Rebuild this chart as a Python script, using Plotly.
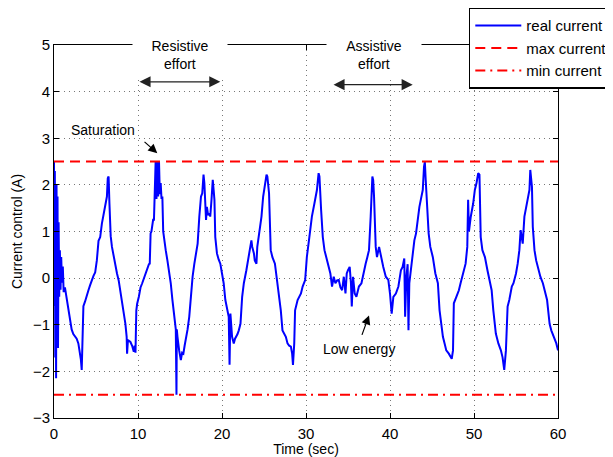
# %%
import plotly.graph_objects as go

# current signal, time in seconds, current in A
time_s = [
    0, 0.05, 0.1, 0.15, 0.2, 0.25, 0.3, 0.36, 0.42, 0.48, 0.55, 0.62, 0.7, 0.78, 0.86, 0.95,
    1.05, 1.15, 1.3, 1.5, 1.7, 1.9, 2.1, 2.3, 2.5, 2.7, 2.9, 3.0, 3.1, 3.2, 3.3, 3.4, 3.5,
    3.7, 3.9, 4.1, 4.3, 4.5, 4.7, 4.9, 5.1, 5.3, 5.5, 5.7, 5.9, 6.1, 6.3, 6.4, 6.5, 6.6,
    6.75, 6.9, 7.1, 7.3, 7.5, 7.7, 7.9, 8.1, 8.3, 8.5, 8.65, 8.7, 8.8, 8.9, 9.1, 9.3, 9.5,
    9.6, 9.7, 9.8, 9.9, 10.1,
    10.3, 10.5, 10.7, 10.9, 11.1, 11.3, 11.4, 11.5, 11.6, 11.7, 11.8, 11.9, 12.0, 12.1,
    12.2, 12.3, 12.4, 12.5, 12.6, 12.7, 12.8, 12.9, 13.0, 13.1, 13.3, 13.5, 13.7, 13.9,
    14.1, 14.3, 14.5, 14.58, 14.62, 14.7, 14.9, 15.1, 15.25, 15.4, 15.55, 15.7, 15.9, 16.1,
    16.3, 16.5, 16.7, 16.9, 17.1, 17.3, 17.5, 17.65, 17.8, 17.9, 18.0, 18.1, 18.2, 18.35,
    18.5, 18.6, 18.75, 18.9, 19.0, 19.1, 19.2, 19.4, 19.6, 19.8, 20.0, 20.2,
    20.4, 20.6, 20.8, 20.9, 21.0, 21.2, 21.4, 21.55, 21.7, 21.85, 22.0, 22.2, 22.4, 22.6,
    22.9, 23.2, 23.5, 23.6, 23.8, 23.9, 24.1, 24.2, 24.5, 24.7, 24.9, 25.1, 25.3, 25.4,
    25.6, 25.8, 26.0, 26.3, 26.6, 26.8, 27.0, 27.2, 27.4, 27.6, 27.8, 28.0, 28.2, 28.35,
    28.45, 28.6, 28.7, 29.0, 29.4, 29.6, 29.9,
    30.1, 30.4, 30.7, 31.0, 31.3, 31.5, 31.6, 31.8, 32.0, 32.2, 32.5, 32.7, 32.9, 33.1,
    33.3, 33.5, 33.7, 33.9, 34.1, 34.3, 34.5, 34.7, 34.85, 35.0, 35.2, 35.35, 35.45, 35.6,
    35.8, 36.0, 36.3, 36.6, 36.9, 37.1, 37.3, 37.5, 37.7, 37.9, 38.0, 38.1, 38.3, 38.45,
    38.7, 39.0, 39.2, 39.5, 39.8,
    40.0, 40.2, 40.4, 40.7, 41.0, 41.3, 41.5, 41.7, 41.8, 41.95, 42.1, 42.2, 42.3, 42.5,
    42.7, 42.9, 43.1, 43.3, 43.5, 43.7, 43.9, 44.05, 44.15, 44.25, 44.4, 44.6, 44.8, 45.1,
    45.4, 45.7, 45.9, 46.1, 46.3, 46.5, 46.7, 47.0, 47.2, 47.35, 47.5, 47.6, 47.9, 48.2,
    48.4, 48.7, 49.0, 49.2, 49.3, 49.4, 49.6, 49.9,
    50.1, 50.3, 50.5, 50.65, 50.8, 51.0, 51.3, 51.6, 51.8, 52.1, 52.3, 52.5, 52.6, 52.9,
    53.2, 53.4, 53.6, 53.8, 54.0, 54.2, 54.5, 54.7, 55.0, 55.2, 55.4, 55.55, 55.7, 55.8,
    56.0, 56.3, 56.6, 56.7, 56.9, 57.0, 57.2, 57.4, 57.6, 57.9, 58.2, 58.4, 58.7, 59.0,
    59.2, 59.5, 59.8, 60.0,
]
current_a = [
    2.5, -0.6, 2.3, -1.7, 1.0, -2.15, 2.0, -0.3, 1.75, -1.5, 1.2, -0.4, 0.6, -0.25, 0.45, -0.1,
    0.25, -0.3, -0.2, -0.45, -0.65, -0.9, -1.1, -1.2, -1.26, -1.3, -1.4, -1.5, -1.6, -1.75, -1.97, -1.2, -0.6,
    -0.5, -0.35, -0.26, -0.15, -0.04, 0.05, 0.12, 0.38, 0.8, 0.88, 1.17, 1.39, 1.53, 1.75, 2.14, 2.18, 1.6,
    0.9, 0.67, 0.45, 0.3, 0.1, -0.05, -0.26, -0.5, -0.75, -0.98, -1.26, -1.62, -1.33, -1.35, -1.37, -1.45, -1.58,
    -1.45, -1.6, -0.69, -0.55, -0.4,
    -0.2, -0.11, 0.0, 0.1, 0.24, 0.3, 0.31, 0.96, 1.0, 1.17, 1.25, 1.25, 1.9, 2.5,
    1.7, 2.5, 1.75, 2.5, 1.8, 2.04, 1.7, 1.75, 1.0, 0.81, 0.6, 0.38, 0.17, -0.11,
    -0.47, -0.76, -1.1, -2.5, -1.1, -1.26, -1.55, -1.76, -1.6, -1.62, -1.45, -1.33, -1.1, -0.83,
    -0.33, 0.03, 0.3, 0.53, 0.74, 1.32, 1.75, 1.82, 2.22, 2.04, 1.6, 1.25, 1.53, 1.35,
    1.39, 1.32, 1.68, 2.11, 1.9, 1.68, 0.88, 0.53, 0.4, 0.31, 0.1, -0.11,
    -0.47, -0.69, -0.83, -1.86, -0.76, -1.26, -1.4, -1.3, -1.26, -1.2, -1.12, -0.98, -0.4, -0.11,
    0.17, 0.45, 0.81, 0.67, 0.53, 0.38, 0.31, 0.67, 1.1, 1.32, 1.75, 1.96, 2.22, 2.18,
    1.82, 0.6, 0.45, 0.31, -0.11, -0.33, -0.69, -1.12, -1.2, -1.26, -1.4, -1.45, -1.47, -1.62,
    -1.86, -1.4, -0.69, -0.47, -0.33, -0.18, -0.04,
    0.45, 0.88, 1.32, 1.6, 1.89, 2.25, 2.18, 1.46, 0.88, 0.6, 0.38, 0.24, 0.1, -0.18,
    0.03, -0.11, -0.05, -0.04, -0.2, -0.26, 0.03, -0.33, 0.1, 0.17, 0.24, -0.1, -0.61, 0.03,
    -0.33, -0.4, -0.18, -0.11, 0.17, 0.31, 0.45, 0.6, 1.32, 2.18, 2.1, 1.75, 0.67, 0.45,
    0.67, 0.38, 0.24, 0.03, -0.04,
    -0.33, -0.76, -0.4, -0.33, -0.18, 0.17, 0.24, 0.42, -0.83, 0.03, 0.3, -1.12, -0.11, 0.17,
    0.53, 0.81, 0.96, 1.32, 1.53, 1.71, 1.89, 2.39, 2.49, 2.11, 1.68, 0.96, 0.67, 0.45,
    0.1, -0.11, -0.69, -0.98, -1.26, -1.4, -1.55, -1.62, -1.7, -1.73, -1.55, -0.54, -0.4, -0.26,
    -0.11, 0.1, 0.31, 0.67, 1.68, 1.0, 1.3, 1.6,
    1.89, 2.04, 2.25, 2.22, 0.88, 0.6, 0.45, 0.17, -0.04, -0.26, -0.69, -0.98, -1.19, -1.4,
    -1.55, -1.7, -1.97, -1.55, -0.61, -0.47, -0.18, -0.11, 0.1, 0.31, 0.6, 1.03, 0.8, 0.74,
    1.32, 1.6, 1.89, 2.32, 1.96, 1.1, 0.6, 0.38, 0.24, 0.03, -0.11, -0.26, -0.47, -0.98,
    -1.12, -1.26, -1.4, -1.55,
]
max_current = 2.5
min_current = -2.5
x_range = [0, 60]
y_range = [-3, 5]

# %%
fig = go.Figure()
fig.add_trace(go.Scatter(x=time_s, y=current_a, mode='lines', name='real current',
                         line=dict(color='#0000ff', width=2)))
fig.add_trace(go.Scatter(x=x_range, y=[max_current, max_current], mode='lines', name='max current',
                         line=dict(color='#ff0000', width=2, dash='10px,6px')))
fig.add_trace(go.Scatter(x=x_range, y=[min_current, min_current], mode='lines', name='min current',
                         line=dict(color='#ff0000', width=2, dash='10px,5px,2px,5px')))

axis_style = dict(showline=True, linecolor='black', linewidth=1, mirror='ticks',
                  ticks='inside', ticklen=5, tickcolor='black',
                  showgrid=True, gridcolor='#777777', griddash='1px,4px', gridwidth=1,
                  zeroline=False, tickfont=dict(size=15, color='black'))
fig.update_xaxes(range=x_range, dtick=10, ticklabelstandoff=2,
                 title=dict(text='Time (sec)', standoff=5, font=dict(size=14, color='black')),
                 **axis_style)
fig.update_yaxes(range=y_range, dtick=1,
                 title=dict(text='Current control (A)', standoff=6, font=dict(size=14, color='black')),
                 **axis_style)

txt = dict(size=14, color='black')
# effort labels sit on the top border, white box hides the line
fig.add_annotation(x=15.0, y=4.78, text='Resistive<br>effort', showarrow=False, font=txt,
                   bgcolor='white', width=86, borderpad=4)
fig.add_annotation(x=38.1, y=4.78, text='Assistive<br>effort', showarrow=False, font=txt,
                   bgcolor='white', width=86, borderpad=4)
# double arrows
fig.add_annotation(x=19.8, y=4.21, ax=10.0, ay=4.21, axref='x', ayref='y', text='',
                   showarrow=True, arrowside='end+start', arrowhead=2, arrowsize=1.7,
                   arrowwidth=1.3, arrowcolor='#222222')
fig.add_annotation(x=42.7, y=4.15, ax=33.1, ay=4.15, axref='x', ayref='y', text='',
                   showarrow=True, arrowside='end+start', arrowhead=2, arrowsize=1.7,
                   arrowwidth=1.3, arrowcolor='#222222')
# saturation
fig.add_annotation(x=5.8, y=3.18, text='Saturation', showarrow=False, font=txt)
fig.add_annotation(x=12.3, y=2.68, ax=10.6, ay=2.95, axref='x', ayref='y', text='',
                   showarrow=True, arrowhead=2, arrowsize=1.5, arrowwidth=1.2, arrowcolor='black')
# low energy
fig.add_annotation(x=36.3, y=-1.53, text='Low energy', showarrow=False, font=txt)
fig.add_annotation(x=37.5, y=-0.8, ax=36.6, ay=-1.25, axref='x', ayref='y', text='',
                   showarrow=True, arrowhead=2, arrowsize=1.5, arrowwidth=1.2, arrowcolor='black')

# page body has an 8px margin, so the figure is 8px smaller than the window
fig.update_layout(
    width=605, height=449,
    margin=dict(l=46, r=55, t=37, b=39, autoexpand=False),
    plot_bgcolor='white', paper_bgcolor='white',
    font=dict(family='Liberation Sans, Arial, sans-serif', size=14, color='black'),
    legend=dict(x=0.823, y=1.1, xanchor='left', yanchor='top', bgcolor='white',
                bordercolor='black', borderwidth=1.5, font=dict(size=15),
                itemwidth=46, tracegroupgap=0),
    showlegend=True,
)
fig.write_html("out.html")
